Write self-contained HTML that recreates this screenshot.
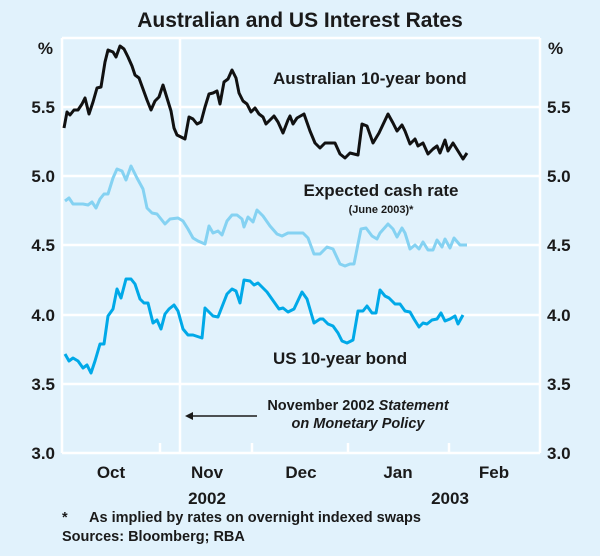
<!DOCTYPE html>
<html><head><style>
body{margin:0;background:#e1f2fc;}
svg text{font-family:"Liberation Sans",Arial,sans-serif;fill:#1a1a1a;}
</style></head><body>
<svg width="600" height="551" viewBox="0 0 600 551" xmlns="http://www.w3.org/2000/svg">
<rect width="600" height="551" fill="#e1f2fc"/>
<text x="300" y="27" font-size="21" font-weight="bold" text-anchor="middle">Australian and US Interest Rates</text>
<g stroke="#fff" stroke-width="2.5" fill="none">
<line x1="62" y1="38" x2="540" y2="38"/>
<line x1="62" y1="107" x2="540" y2="107"/>
<line x1="62" y1="176" x2="540" y2="176"/>
<line x1="62" y1="245" x2="540" y2="245"/>
<line x1="62" y1="315" x2="540" y2="315"/>
<line x1="62" y1="384" x2="540" y2="384"/>
<line x1="62" y1="453" x2="540" y2="453"/>
<line x1="62" y1="38" x2="62" y2="453"/>
<line x1="540" y1="38" x2="540" y2="453"/>
<line x1="180" y1="38" x2="180" y2="453"/>
<line x1="160" y1="443" x2="160" y2="453"/>
<line x1="252" y1="443" x2="252" y2="453"/>
<line x1="348" y1="443" x2="348" y2="453"/>
<line x1="449" y1="443" x2="449" y2="453"/>
</g>
<g font-size="17" font-weight="bold">
<text x="53" y="54" text-anchor="end">%</text>
<text x="55" y="113" text-anchor="end">5.5</text>
<text x="55" y="182" text-anchor="end">5.0</text>
<text x="55" y="251" text-anchor="end">4.5</text>
<text x="55" y="321" text-anchor="end">4.0</text>
<text x="55" y="390" text-anchor="end">3.5</text>
<text x="55" y="459" text-anchor="end">3.0</text>
<text x="548" y="54">%</text>
<text x="547" y="113">5.5</text>
<text x="547" y="182">5.0</text>
<text x="547" y="251">4.5</text>
<text x="547" y="321">4.0</text>
<text x="547" y="390">3.5</text>
<text x="547" y="459">3.0</text>
<text x="111" y="478" text-anchor="middle">Oct</text>
<text x="207" y="478" text-anchor="middle">Nov</text>
<text x="301" y="478" text-anchor="middle">Dec</text>
<text x="398" y="478" text-anchor="middle">Jan</text>
<text x="494" y="478" text-anchor="middle">Feb</text>
<text x="207" y="504" text-anchor="middle">2002</text>
<text x="450" y="504" text-anchor="middle">2003</text>
<text x="273" y="84">Australian 10-year bond</text>
<text x="381" y="196" text-anchor="middle">Expected cash rate</text>
<text x="273" y="364">US 10-year bond</text>
</g>
<text x="381" y="213" font-size="11" font-weight="bold" text-anchor="middle">(June 2003)*</text>
<g font-size="14.5" font-weight="bold">
<text x="358" y="410" text-anchor="middle">November 2002 <tspan font-style="italic">Statement</tspan></text>
<text x="358" y="428" text-anchor="middle" font-style="italic">on Monetary Policy</text>
<text x="62" y="522">*</text>
<text x="89" y="522">As implied by rates on overnight indexed swaps</text>
<text x="62" y="541">Sources: Bloomberg; RBA</text>
</g>
<line x1="257" y1="416" x2="192" y2="416" stroke="#1a1a1a" stroke-width="1.5"/>
<polygon points="185,416 193,412 193,420" fill="#1a1a1a"/>
<g fill="none" stroke-width="3" stroke-linejoin="round">
<polyline stroke="#111" points="64,128 67,112 70,115 74,110 78,110 82,104 85,98 89,114 93,102 97,88 101,87 105,62 108,50 113,52 116,57 120,46 124,49 128,57 132,66 135,75 139,78 143,89 147,100 151,110 155,101 159,97 163,85 167,98 171,111 174,128 177,135 181,137 185,139 189,117 193,119 197,124 201,122 205,107 209,94 213,93 217,91 220,104 224,82 228,79 232,70 236,78 239,93 243,101 247,104 251,112 255,108 259,114 263,117 266,124 270,120 274,116 278,122 283,133 288,120 290,116 293,124 297,118 304,114 310,131 315,143 320,148 325,143 335,143 340,154 345,158 350,153 358,155 362,124 367,126 373,143 379,133 388,114 393,123 397,131 402,125 405,131 410,144 415,139 418,146 423,143 428,154 433,149 437,146 440,153 445,140 448,151 453,143 458,151 463,159 467,153"/>
<polyline stroke="#85d2f2" points="65,201 69,198 73,204 83,204 88,205 92,202 96,208 100,199 104,194 108,194 113,178 117,169 122,171 126,180 131,166 137,178 143,189 147,208 152,213 157,214 165,224 170,219 178,218 183,221 188,229 193,238 198,241 205,244 209,226 213,233 218,231 222,235 227,221 232,215 237,215 242,219 244,227 248,217 253,222 257,210 263,216 270,226 277,234 282,236 288,233 303,233 308,238 314,254 320,254 327,247 333,249 340,264 345,266 350,264 354,264 361,229 366,228 372,236 377,239 380,233 388,224 393,229 397,237 402,228 405,233 410,249 415,245 419,249 423,242 428,250 433,250 437,240 442,247 445,239 450,248 454,238 460,245 467,245"/>
<polyline stroke="#00a9e8" points="65,354 69,361 73,358 78,361 83,368 87,365 91,373 95,361 100,344 104,344 108,316 113,309 117,289 121,298 126,279 131,279 135,284 140,299 144,303 148,303 153,323 157,320 161,329 165,314 169,309 174,305 178,311 183,329 188,335 193,335 202,338 205,308 213,316 218,317 227,294 232,289 236,291 240,303 244,280 250,281 254,285 258,283 267,292 279,309 283,308 288,312 294,309 302,292 307,299 314,323 320,319 323,319 328,324 333,326 338,333 342,341 347,343 353,340 358,311 363,311 367,306 372,313 376,313 380,290 385,296 389,298 395,304 400,304 405,311 410,312 414,319 419,327 423,323 427,324 432,320 437,319 441,313 445,321 450,319 455,316 458,324 463,315"/>
</g>
</svg>
</body></html>
